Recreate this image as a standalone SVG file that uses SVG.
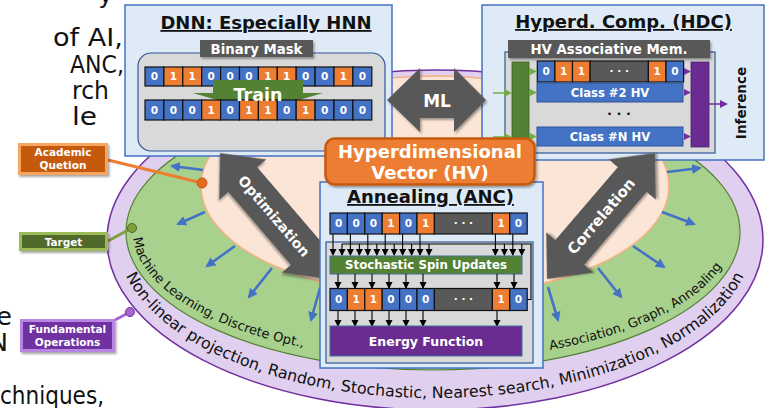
<svg xmlns="http://www.w3.org/2000/svg" width="767" height="408" viewBox="0 0 767 408">
<defs>
<style>
text{font-family:"DejaVu Sans",Verdana,sans-serif}
.wt{fill:#fff;font-weight:bold;text-anchor:middle}
.c0{fill:#4472C4;stroke:#111;stroke-width:1.2}
.c1{fill:#ED7D31;stroke:#111;stroke-width:1.2}
.cd{fill:#595959;stroke:#111;stroke-width:1.2}
.d{fill:#fff;font-weight:bold;font-size:10.5px;text-anchor:middle}
.panel{fill:#DEEBF7;stroke:#4472C4;stroke-width:1.5}
.inner{fill:#D9D9D9;stroke:#2F5597;stroke-width:1.2}
.tag{fill:#595959}
.title{font-size:18px;font-weight:bold;text-anchor:middle;text-decoration:underline;fill:#111}
.radial{stroke:#4472C4;stroke-width:2.6;fill:none;marker-end:url(#blueHead)}
.flow{stroke:#000;stroke-width:1.1;fill:none;marker-end:url(#blackHead)}
.big{fill:#595959}
.side{font-size:25px;fill:#111}
.ring{font-size:13px;fill:#111}
</style>
<marker id="blueHead" markerUnits="userSpaceOnUse" markerWidth="11" markerHeight="11" refX="8" refY="5" orient="auto"><path d="M0,0 L10,5 L0,10 Z" fill="#4472C4"/></marker>
<marker id="blackHead" markerUnits="userSpaceOnUse" markerWidth="8" markerHeight="8" refX="6" refY="3.5" orient="auto"><path d="M0,0 L7,3.5 L0,7 Z" fill="#000"/></marker>
<filter id="shade" x="-10%" y="-10%" width="130%" height="140%"><feDropShadow dx="1.5" dy="2" stdDeviation="1.2" flood-color="#000" flood-opacity="0.35"/></filter>
<path id="ringOuter" d="M117,238 A318,160 0 0 0 753,238"/>
<path id="ringMid" d="M133,232 A300,128 0 0 0 733,232"/>
</defs>

<rect width="767" height="408" fill="#fff"/>

<!-- paragraph text running behind the figure -->
<g id="page-text">
<text class="side" x="113" y="3" text-anchor="end">y</text>
<text class="side" x="53" y="46" textLength="70" lengthAdjust="spacingAndGlyphs">of AI,</text>
<text class="side" x="70" y="72.5" textLength="54" lengthAdjust="spacingAndGlyphs">ANC,</text>
<text class="side" x="72" y="99" textLength="37" lengthAdjust="spacingAndGlyphs">rch</text>
<text class="side" x="72" y="125" textLength="25" lengthAdjust="spacingAndGlyphs">le</text>
<text class="side" x="12" y="325" text-anchor="end">e</text>
<text class="side" x="8" y="351" text-anchor="end">N</text>
<text class="side" x="0" y="404" textLength="104" lengthAdjust="spacingAndGlyphs">chniques,</text>
</g>

<!-- nested rings -->
<g id="rings">
<ellipse cx="435" cy="240" rx="328" ry="170" fill="#E0CFEF" stroke="#7030A0" stroke-width="1.5"/>
<ellipse cx="433" cy="232" rx="307" ry="138" fill="#A9D18E" stroke="#548235" stroke-width="1.2"/>
<ellipse cx="435" cy="186" rx="234" ry="110" fill="#FBE5D6" stroke="#F4B183" stroke-width="1.5"/>
</g>

<g id="connectors">
<line class="radial" x1="203" y1="170" x2="172" y2="166"/>
<line class="radial" x1="205" y1="212" x2="178" y2="224"/>
<line class="radial" x1="235" y1="246" x2="207" y2="266"/>
<line class="radial" x1="272" y1="268" x2="249" y2="297"/>
<line class="radial" x1="320" y1="288" x2="311" y2="320"/>
<line class="radial" x1="667" y1="172" x2="700" y2="168"/>
<line class="radial" x1="662" y1="212" x2="694" y2="224"/>
<line class="radial" x1="633" y1="246" x2="664" y2="267"/>
<line class="radial" x1="598" y1="268" x2="621" y2="297"/>
<line class="radial" x1="548" y1="287" x2="558" y2="320"/>
<line x1="108" y1="160" x2="202" y2="183" stroke="#ED7D31" stroke-width="3"/>
<circle cx="202" cy="183" r="5" fill="#E46C1E" stroke="#C55A11"/>
<line x1="108" y1="241" x2="132" y2="228" stroke="#7F9F3A" stroke-width="3"/>
<circle cx="132" cy="228" r="4.5" fill="#7F9F3A" stroke="#4F6228"/>
<line x1="115" y1="320" x2="130" y2="312" stroke="#A764D4" stroke-width="3"/>
<circle cx="130" cy="312" r="4.5" fill="#A764D4" stroke="#7030A0"/>
</g>

<!-- ring captions -->
<g id="ring-captions">
<text class="ring"><textPath href="#ringMid" startOffset="6">Machine Learning, Discrete Opt.,</textPath></text>
<text class="ring" text-anchor="end"><textPath href="#ringMid" startOffset="663">Association, Graph, Annealing</textPath></text>
<text style="font-size:15.8px;fill:#111" text-anchor="middle"><textPath href="#ringOuter" startOffset="50%">Non-linear projection, Random, Stochastic, Nearest search, Minimization, Normalization</textPath></text>
</g>

<!-- legend tags -->
<g id="tag-academic">
<rect x="19.5" y="144.5" width="87" height="29" fill="#C55A11" stroke="#F7A55E" stroke-width="3" filter="url(#shade)"/>
<text class="wt" x="63" y="156" font-size="10.5">Academic</text>
<text class="wt" x="63" y="169" font-size="10.5">Quetion</text>
</g>
<g id="tag-target">
<rect x="20.5" y="233.5" width="86" height="16" fill="#4F6B2A" stroke="#9BBB59" stroke-width="3" filter="url(#shade)"/>
<text class="wt" x="63.5" y="245.5" font-size="10.5">Target</text>
</g>
<g id="tag-fundamental">
<rect x="21.5" y="320.5" width="92" height="30" fill="#7030A0" stroke="#B985E3" stroke-width="3" filter="url(#shade)"/>
<text class="wt" x="67.5" y="333" font-size="10.5">Fundamental</text>
<text class="wt" x="67.5" y="345.5" font-size="10.5">Operations</text>
</g>

<!-- DNN panel -->
<g id="dnn">
<rect class="panel" x="125" y="5" width="267" height="151"/>
<text class="title" x="266" y="29">DNN: Especially HNN</text>
<rect class="inner" x="138" y="53" width="247" height="98" rx="13"/>
<rect class="tag" x="200" y="40" width="113" height="17" filter="url(#shade)"/>
<text class="wt" x="256.5" y="53.5" font-size="13.3">Binary Mask</text>
<g>
<rect class="c0" x="145" y="67" width="18.9" height="19"/><rect class="c1" x="163.9" y="67" width="18.9" height="19"/><rect class="c1" x="182.8" y="67" width="18.9" height="19"/><rect class="c0" x="201.7" y="67" width="18.9" height="19"/><rect class="c0" x="220.6" y="67" width="18.9" height="19"/><rect class="c0" x="239.5" y="67" width="18.9" height="19"/><rect class="c1" x="258.4" y="67" width="18.9" height="19"/><rect class="c1" x="277.3" y="67" width="18.9" height="19"/><rect class="c0" x="296.2" y="67" width="18.9" height="19"/><rect class="c0" x="315.1" y="67" width="18.9" height="19"/><rect class="c1" x="334" y="67" width="18.9" height="19"/><rect class="c0" x="352.9" y="67" width="18.9" height="19"/>
<text class="d" y="80.3"><tspan x="154.45">0</tspan><tspan x="173.35">1</tspan><tspan x="192.25">1</tspan><tspan x="211.15">0</tspan><tspan x="230.05">0</tspan><tspan x="248.95">0</tspan><tspan x="267.85">1</tspan><tspan x="286.75">1</tspan><tspan x="305.65">0</tspan><tspan x="324.55">0</tspan><tspan x="343.45">1</tspan><tspan x="362.35">0</tspan></text>
</g>
<polygon points="213,80 303,80 303,93 323,93 258,112 193,93 213,93" fill="#548235"/>
<g>
<rect class="c0" x="145" y="100" width="18.9" height="20"/><rect class="c0" x="163.9" y="100" width="18.9" height="20"/><rect class="c0" x="182.8" y="100" width="18.9" height="20"/><rect class="c1" x="201.7" y="100" width="18.9" height="20"/><rect class="c0" x="220.6" y="100" width="18.9" height="20"/><rect class="c1" x="239.5" y="100" width="18.9" height="20"/><rect class="c1" x="258.4" y="100" width="18.9" height="20"/><rect class="c0" x="277.3" y="100" width="18.9" height="20"/><rect class="c1" x="296.2" y="100" width="18.9" height="20"/><rect class="c0" x="315.1" y="100" width="18.9" height="20"/><rect class="c0" x="334" y="100" width="18.9" height="20"/><rect class="c0" x="352.9" y="100" width="18.9" height="20"/>
<text class="d" y="113.8"><tspan x="154.45">0</tspan><tspan x="173.35">0</tspan><tspan x="192.25">0</tspan><tspan x="211.15">1</tspan><tspan x="230.05">0</tspan><tspan x="248.95">1</tspan><tspan x="267.85">1</tspan><tspan x="286.75">0</tspan><tspan x="305.65">1</tspan><tspan x="324.55">0</tspan><tspan x="343.45">0</tspan><tspan x="362.35">0</tspan></text>
</g>
<text class="wt" x="258" y="101" font-size="17.5">Train</text>
</g>

<!-- HDC panel -->
<g id="hdc">
<rect class="panel" x="482" y="5" width="282" height="155"/>
<text class="title" x="623.5" y="28">Hyperd. Comp. (HDC)</text>
<rect class="inner" x="505" y="52" width="210" height="101"/>
<rect class="tag" x="508" y="40" width="202" height="18" filter="url(#shade)"/>
<text class="wt" x="609" y="54" font-size="13.3">HV Associative Mem.</text>
<rect x="512" y="62" width="17" height="85" fill="#548235" stroke="#3B5E22" stroke-width="0.8"/>
<rect x="691" y="62" width="18" height="85" fill="#6A2C91" stroke="#4B1E68" stroke-width="0.8"/>
<rect class="c0" x="537.3" y="61" width="17.6" height="21"/><rect class="c1" x="554.9" y="61" width="17.6" height="21"/><rect class="c1" x="572.5" y="61" width="17.6" height="21"/><rect class="cd" x="590.1" y="61" width="58.3" height="21"/><rect class="c1" x="648.4" y="61" width="17.6" height="21"/><rect class="c0" x="666" y="61" width="17.6" height="21"/>
<text class="d" y="75.3"><tspan x="546.1">0</tspan><tspan x="563.7">1</tspan><tspan x="581.3">1</tspan><tspan x="619.25">· · ·</tspan><tspan x="657.2">1</tspan><tspan x="674.8">0</tspan></text>
<rect x="537" y="83" width="146" height="19" fill="#4472C4" stroke="#2F5597"/>
<text class="wt" x="610" y="96.7" font-size="11.6">Class #2 HV</text>
<text x="619" y="118" font-size="13" font-weight="bold" text-anchor="middle" fill="#111">· · ·</text>
<rect x="537" y="127" width="146" height="19" fill="#4472C4" stroke="#2F5597"/>
<text class="wt" x="610" y="140.7" font-size="11.6">Class #N HV</text>
<g fill="#70AD47">
<path d="M529,67.5 L537,71.5 L529,75.5 Z"/><path d="M529,88.5 L537,92.5 L529,96.5 Z"/><path d="M529,132.5 L537,136.5 L529,140.5 Z"/>
<path d="M504,89 L512,93 L504,97 Z"/><path d="M504,133 L512,137 L504,141 Z"/>
</g>
<g stroke="#70AD47" stroke-width="1.5"><line x1="493" y1="93" x2="505" y2="93"/><line x1="493" y1="137" x2="505" y2="137"/></g>
<g fill="#7030A0">
<path d="M684,68 L691,71.5 L684,75 Z"/><path d="M684,89 L691,92.5 L684,96 Z"/><path d="M684,133 L691,136.5 L684,140 Z"/>
<path d="M720,100 L728,104 L720,108 Z"/>
</g>
<line x1="709" y1="104" x2="721" y2="104" stroke="#7030A0" stroke-width="1.5"/>
<text x="741" y="103" font-size="13.5" font-weight="bold" fill="#111" text-anchor="middle" dominant-baseline="central" transform="rotate(-90 741 103)">Inference</text>
</g>

<!-- relation arrows -->
<g id="optimization" transform="translate(220,153) rotate(49.4)">
<path class="big" d="M0,0 L35,-31 L35,-19 L131,-19 L131,-31 L166,0 L131,31 L131,19 L35,19 L35,31 Z" filter="url(#shade)"/>
<text class="wt" x="83" y="5" font-size="14">Optimization</text>
</g>
<g id="correlation" transform="translate(547,279) rotate(-49.4)">
<path class="big" d="M0,0 L35,-31 L35,-19 L131,-19 L131,-31 L166,0 L131,31 L131,19 L35,19 L35,31 Z" filter="url(#shade)"/>
<text class="wt" x="83" y="5.5" font-size="15">Correlation</text>
</g>
<g id="ml">
<polygon class="big" points="387,100 420,68 420,80 454,80 454,68 486,100 454,132 454,118 420,118 420,132" filter="url(#shade)"/>
<text class="wt" x="437" y="106.5" font-size="17">ML</text>
</g>

<!-- annealing panel -->
<g id="anc">
<rect class="panel" x="320" y="182" width="223" height="186"/>
<text class="title" x="430.5" y="203">Annealing (ANC)</text>
<rect class="inner" x="326" y="242" width="207" height="121"/>
<rect class="c0" x="330" y="213" width="17.4" height="21"/><rect class="c0" x="347.4" y="213" width="17.4" height="21"/><rect class="c0" x="364.8" y="213" width="17.4" height="21"/><rect class="c1" x="382.2" y="213" width="17.4" height="21"/><rect class="c0" x="399.6" y="213" width="17.4" height="21"/><rect class="c1" x="417" y="213" width="17.4" height="21"/><rect class="cd" x="434.4" y="213" width="58" height="21"/><rect class="c1" x="492.4" y="213" width="17.4" height="21"/><rect class="c0" x="509.8" y="213" width="17.4" height="21"/>
<text class="d" y="227.3"><tspan x="338.7">0</tspan><tspan x="356.1">0</tspan><tspan x="373.5">0</tspan><tspan x="390.9">1</tspan><tspan x="408.3">0</tspan><tspan x="425.7">1</tspan><tspan x="463.4">· · ·</tspan><tspan x="501.1">1</tspan><tspan x="518.5">0</tspan></text>
<path d="M527,299.5 H531 V244 H342" fill="none" stroke="#000" stroke-width="1.1"/>
<g>
<line class="flow" x1="333" y1="234" x2="333" y2="255"/><line class="flow" x1="350.4" y1="234" x2="350.4" y2="255"/><line class="flow" x1="367.8" y1="234" x2="367.8" y2="255"/><line class="flow" x1="385.2" y1="234" x2="385.2" y2="255"/><line class="flow" x1="402.6" y1="234" x2="402.6" y2="255"/><line class="flow" x1="420" y1="234" x2="420" y2="255"/><line class="flow" x1="495.4" y1="234" x2="495.4" y2="255"/><line class="flow" x1="512.8" y1="234" x2="512.8" y2="255"/>
<line class="flow" x1="342" y1="244" x2="342" y2="255"/><line class="flow" x1="359.4" y1="244" x2="359.4" y2="255"/><line class="flow" x1="376.8" y1="244" x2="376.8" y2="255"/><line class="flow" x1="394.2" y1="244" x2="394.2" y2="255"/><line class="flow" x1="411.6" y1="244" x2="411.6" y2="255"/><line class="flow" x1="429" y1="244" x2="429" y2="255"/><line class="flow" x1="504.4" y1="244" x2="504.4" y2="255"/><line class="flow" x1="521.8" y1="244" x2="521.8" y2="255"/>
</g>
<rect x="330" y="256" width="192" height="18" fill="#548235" stroke="#41719C"/>
<text class="wt" x="426" y="269.3" font-size="11.8">Stochastic Spin Updates</text>
<g>
<line class="flow" x1="338" y1="274" x2="338" y2="288"/><line class="flow" x1="355" y1="274" x2="355" y2="288"/><line class="flow" x1="372" y1="274" x2="372" y2="288"/><line class="flow" x1="389" y1="274" x2="389" y2="288"/><line class="flow" x1="406" y1="274" x2="406" y2="288"/><line class="flow" x1="423" y1="274" x2="423" y2="288"/><line class="flow" x1="497" y1="274" x2="497" y2="288"/><line class="flow" x1="514" y1="274" x2="514" y2="288"/>
</g>
<rect class="c0" x="330" y="288.5" width="17.4" height="22"/><rect class="c1" x="347.4" y="288.5" width="17.4" height="22"/><rect class="c1" x="364.8" y="288.5" width="17.4" height="22"/><rect class="c0" x="382.2" y="288.5" width="17.4" height="22"/><rect class="c0" x="399.6" y="288.5" width="17.4" height="22"/><rect class="c0" x="417" y="288.5" width="17.4" height="22"/><rect class="cd" x="434.4" y="288.5" width="58" height="22"/><rect class="c1" x="492.4" y="288.5" width="17.4" height="22"/><rect class="c0" x="509.8" y="288.5" width="17.4" height="22"/>
<text class="d" y="303.3"><tspan x="338.7">0</tspan><tspan x="356.1">1</tspan><tspan x="373.5">1</tspan><tspan x="390.9">0</tspan><tspan x="408.3">0</tspan><tspan x="425.7">0</tspan><tspan x="463.4">· · ·</tspan><tspan x="501.1">1</tspan><tspan x="518.5">0</tspan></text>
<g>
<line class="flow" x1="338" y1="311" x2="338" y2="326"/><line class="flow" x1="355" y1="311" x2="355" y2="326"/><line class="flow" x1="372" y1="311" x2="372" y2="326"/><line class="flow" x1="389" y1="311" x2="389" y2="326"/><line class="flow" x1="406" y1="311" x2="406" y2="326"/><line class="flow" x1="423" y1="311" x2="423" y2="326"/><line class="flow" x1="497" y1="311" x2="497" y2="326"/>
</g>
<rect x="330" y="326" width="192" height="30" fill="#6A2C91" stroke="#41719C"/>
<text class="wt" x="426" y="345.5" font-size="12.5">Energy Function</text>
</g>

<!-- central vector badge -->
<g id="hv">
<rect x="325.5" y="138.5" width="209" height="46" rx="9" fill="#ED7D31" stroke="#C55A11" stroke-width="2.5" filter="url(#shade)"/>
<text class="wt" x="430" y="158" font-size="18">Hyperdimensional</text>
<text class="wt" x="430" y="179" font-size="18">Vector (HV)</text>
</g>
</svg>
